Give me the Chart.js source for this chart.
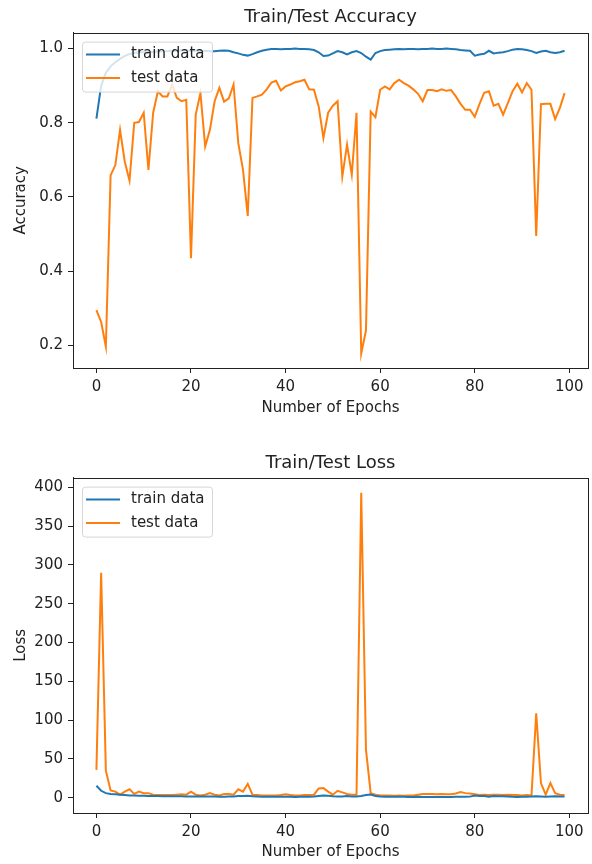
<!DOCTYPE html>
<html>
<head>
<meta charset="utf-8">
<title>Train/Test Accuracy and Loss</title>
<script src="https://cdn.jsdelivr.net/npm/chart.js@4.4.1/dist/chart.umd.min.js"></script>
<style>
  body { margin: 0; background: #fff; }
  #wrap { position: relative; width: 592px; height: 864px; }
  canvas { position: absolute; left: 0; }
  #acc-chart { top: 0; }
  #loss-chart { top: 432px; }
</style>
</head>
<body>
<div id="wrap">
  <canvas id="acc-chart" width="592" height="432"></canvas>
  <canvas id="loss-chart" width="592" height="432"></canvas>
</div>
<script>
// epoch index 0..99 (x axis categories)
const epochs = Array.from({ length: 100 }, (_, i) => i);
const epochTicks = [0, 20, 40, 60, 80, 100];

const trainAcc = [
  0.811, 0.900, 0.935, 0.952, 0.963, 0.972, 0.980, 0.985, 0.988, 0.990,
  0.990, 0.991, 0.991, 0.992, 0.993, 0.993, 0.994, 0.994, 0.995, 0.995,
  0.993, 0.994, 0.993, 0.994, 0.993, 0.993, 0.994, 0.995, 0.994, 0.990,
  0.987, 0.983, 0.981, 0.985, 0.990, 0.994, 0.997, 0.999, 0.999, 0.998,
  0.999, 0.999, 1.000, 0.999, 0.999, 0.998, 0.996, 0.990, 0.980, 0.981,
  0.987, 0.993, 0.990, 0.984, 0.990, 0.993, 0.988, 0.978, 0.970, 0.988,
  0.993, 0.996, 0.997, 0.998, 0.999, 0.998, 0.999, 0.999, 0.998, 0.999,
  0.999, 1.000, 0.999, 0.999, 1.000, 0.999, 0.998, 0.996, 0.995, 0.994,
  0.981, 0.984, 0.986, 0.994, 0.987, 0.989, 0.990, 0.993, 0.997, 0.999,
  0.998, 0.996, 0.993, 0.988, 0.992, 0.994, 0.990, 0.988, 0.990, 0.994
];
const testAcc = [
  0.295, 0.263, 0.197, 0.658, 0.686, 0.781, 0.695, 0.644, 0.800, 0.802,
  0.827, 0.673, 0.827, 0.885, 0.871, 0.871, 0.903, 0.867, 0.858, 0.862,
  0.435, 0.822, 0.880, 0.736, 0.781, 0.858, 0.894, 0.857, 0.866, 0.903,
  0.745, 0.673, 0.549, 0.867, 0.871, 0.876, 0.890, 0.908, 0.913, 0.887,
  0.898, 0.903, 0.909, 0.912, 0.916, 0.890, 0.889, 0.844, 0.759, 0.827,
  0.846, 0.858, 0.655, 0.741, 0.660, 0.827, 0.178, 0.240, 0.830, 0.815,
  0.889, 0.898, 0.890, 0.907, 0.916, 0.907, 0.900, 0.890, 0.878, 0.858,
  0.888, 0.888, 0.885, 0.890, 0.886, 0.888, 0.871, 0.851, 0.835, 0.835,
  0.816, 0.850, 0.881, 0.885, 0.846, 0.851, 0.822, 0.853, 0.885, 0.905,
  0.882, 0.907, 0.889, 0.495, 0.850, 0.851, 0.851, 0.810, 0.840, 0.880
];
const accTicks = [0.2, 0.4, 0.6, 0.8, 1.0];

const trainLoss = [
  15.5, 9, 6, 5, 4.5, 4, 3.5, 3, 2.8, 2.6,
  2.5, 2.4, 2.3, 2.2, 2.1, 2, 2, 1.9, 1.9, 1.8,
  1.8, 1.7, 1.7, 1.6, 1.6, 1.6, 1.5, 1.5, 1.6, 1.8,
  2.2, 2.4, 2.6, 2, 1.6, 1.4, 1.3, 1.2, 1.2, 1.2,
  1.2, 1.2, 1.1, 1.2, 1.2, 1.3, 1.6, 2.4, 3, 2.6,
  2, 1.6, 1.8, 2.2, 1.8, 1.7, 2.4, 3.5, 4.2, 2.4,
  1.8, 1.5, 1.4, 1.3, 1.2, 1.2, 1.1, 1.1, 1.2, 1.1,
  1.1, 1, 1.1, 1.1, 1, 1.1, 1.2, 1.3, 1.4, 1.5,
  2.8, 2.4, 2.2, 1.5, 2.2, 2, 1.9, 1.6, 1.2, 1.1,
  1.2, 1.4, 1.6, 2, 1.7, 1.5, 1.8, 2, 1.8, 1.5
];
const testLoss = [
  36, 290, 35, 9.5, 8, 4, 8, 11, 5, 8,
  6, 6, 4, 3.5, 3.5, 3.5, 3.5, 4, 4.5, 4,
  8, 4, 3, 4, 6, 4, 3, 5, 5, 4,
  11, 8, 18, 4, 3.5, 3, 3, 3, 3, 3.5,
  4.5, 3.5, 3, 3, 3.5, 3.5, 4, 12, 12.5, 8,
  4, 9, 7, 5, 4, 4, 393, 62, 6, 4,
  3, 3, 3, 2.5, 3, 2.5, 3, 3, 4, 5,
  5, 5, 4.5, 5, 4.5, 4.5, 5.5, 7.5, 6, 5.5,
  4.5, 3.5, 4, 3.5, 4, 4, 3.5, 4, 3.5, 3.5,
  3, 3.5, 3, 109, 19, 4, 19, 6, 4, 3.5
];
const lossTicks = [0, 50, 100, 150, 200, 250, 300, 350, 400];

const BLUE = '#1f77b4';
const ORANGE = '#ff7f0e';
const INK = '#222';
const FONT = '"DejaVu Sans", sans-serif';

// matplotlib-like box around the axes
const frameBox = {
  id: 'frameBox',
  afterDraw(chart) {
    const { ctx, chartArea: a } = chart;
    ctx.save();
    ctx.strokeStyle = INK;
    ctx.lineWidth = 1;
    ctx.strokeRect(Math.round(a.left) + 0.5, Math.round(a.top) + 0.5,
      Math.round(a.right - a.left), Math.round(a.bottom - a.top));
    ctx.restore();
  }
};

// legend drawn inside the plot, upper left, with a framed box
const boxLegend = {
  id: 'boxLegend',
  afterDatasetsDraw(chart) {
    const { ctx, chartArea } = chart;
    const x = chartArea.left + 9;
    const y = chartArea.top + 9;
    ctx.save();
    ctx.fillStyle = 'rgba(255,255,255,0.8)';
    ctx.strokeStyle = '#d6d6d6';
    ctx.lineWidth = 1;
    ctx.beginPath();
    ctx.roundRect(x + 0.5, y + 0.5, 130, 50, 3);
    ctx.fill();
    ctx.stroke();
    ctx.font = '15px ' + FONT;
    ctx.textBaseline = 'middle';
    chart.data.datasets.forEach((ds, i) => {
      const rowY = y + 13 + i * 23.5;
      ctx.strokeStyle = ds.borderColor;
      ctx.lineWidth = 2;
      ctx.beginPath();
      ctx.moveTo(x + 4, rowY);
      ctx.lineTo(x + 38, rowY);
      ctx.stroke();
      ctx.fillStyle = INK;
      ctx.fillText(ds.label, x + 49, rowY);
    });
    ctx.restore();
  }
};

function makeChart(id, cfg) {
  const ctx = document.getElementById(id).getContext('2d');
  return new Chart(ctx, {
    type: 'line',
    data: {
      labels: epochs,
      datasets: [
        { label: 'train data', data: cfg.train, borderColor: BLUE, borderWidth: 2, pointRadius: 0, tension: 0, fill: false },
        { label: 'test data', data: cfg.test, borderColor: ORANGE, borderWidth: 2, pointRadius: 0, tension: 0, fill: false }
      ]
    },
    options: {
      responsive: false,
      animation: false,
      devicePixelRatio: 1,
      layout: { padding: { left: 0, right: 4, top: 0, bottom: 0 } },
      plugins: {
        legend: { display: false },
        tooltip: { enabled: false },
        title: {
          display: true,
          fullSize: false,
          text: cfg.title,
          color: INK,
          font: { family: FONT, size: 18, weight: 'normal' },
          padding: cfg.titlePad
        }
      },
      scales: {
        x: {
          type: 'linear',
          min: -4.95,
          max: 103.95,
          afterBuildTicks: s => { s.ticks = epochTicks.map(v => ({ value: v })); },
          afterFit: s => { s.height = cfg.xHeight; },
          grid: { drawOnChartArea: false, drawTicks: true, tickLength: 5, color: INK },
          border: { display: true, color: INK },
          ticks: { color: INK, padding: 5, autoSkip: false, maxRotation: 0, font: { family: FONT, size: 15 } },
          title: {
            display: true, text: 'Number of Epochs', color: INK,
            font: { family: FONT, size: 15 },
            padding: { top: 0, bottom: cfg.xTitlePad }
          }
        },
        y: {
          min: cfg.yMin,
          max: cfg.yMax,
          afterBuildTicks: s => { s.ticks = cfg.yTicks.map(v => ({ value: v })); },
          afterFit: s => { s.width = 73; },
          grid: { drawOnChartArea: false, drawTicks: true, tickLength: 5, color: INK },
          border: { display: true, color: INK },
          ticks: { color: INK, padding: 5, autoSkip: false, font: { family: FONT, size: 15 }, callback: cfg.fmt },
          title: {
            display: true, text: cfg.yTitle, color: INK,
            font: { family: FONT, size: 15 },
            padding: { top: 12, bottom: 0 }
          }
        }
      }
    },
    plugins: [frameBox, boxLegend]
  });
}

document.addEventListener('DOMContentLoaded', () => {
  makeChart('acc-chart', {
    title: 'Train/Test Accuracy',
    titlePad: { top: 7, bottom: 4 },
    train: trainAcc,
    test: testAcc,
    yTitle: 'Accuracy',
    yMin: 0.139,
    yMax: 1.043,
    yTicks: accTicks,
    fmt: v => v.toFixed(1),
    xHeight: 64,
    xTitlePad: 15
  });

  makeChart('loss-chart', {
    title: 'Train/Test Loss',
    titlePad: { top: 21, bottom: 3 },
    train: trainLoss,
    test: testLoss,
    yTitle: 'Loss',
    yMin: -19.6,
    yMax: 412.6,
    yTicks: lossTicks,
    fmt: v => String(v),
    xHeight: 51,
    xTitlePad: 3
  });
});
</script>
</body>
</html>
